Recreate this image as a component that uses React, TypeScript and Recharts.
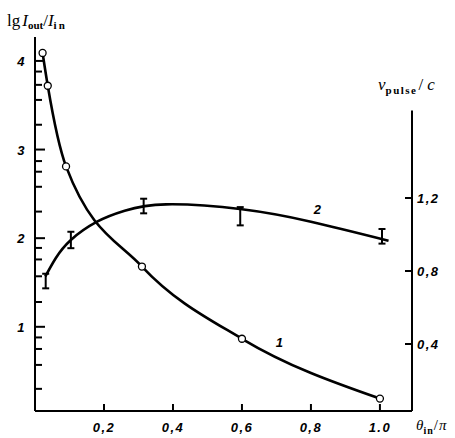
import { ComposedChart, Line, Scatter, ErrorBar, XAxis, YAxis, ReferenceLine } from 'recharts'

// ── Data ─────────────────────────────────────────────────────────────────────

// curve 1: lg(Iout/Iin) vs theta_in/pi, open circles (left axis)
const curve1X = [0.022, 0.037, 0.09, 0.31, 0.6, 1.0]
const curve1Y = [4.09, 3.72, 2.81, 1.68, 0.865, 0.19]

// curve 2: v_pulse/c, smooth fitted line (right axis)
const curve2X = [0.03, 0.06, 0.104, 0.18, 0.26, 0.38, 0.6, 0.8, 1.025]
const curve2Y = [0.77, 0.87, 0.97, 1.07, 1.13, 1.165, 1.138, 1.07, 0.966]

// curve 2 measurements with error bars
const measX = [0.031, 0.104, 0.315, 0.595, 1.006]
const measY = [0.745, 0.97, 1.156, 1.1, 0.99]
const measErr = [0.04, 0.045, 0.04, 0.05, 0.04]

const xTicks = [0.2, 0.4, 0.6, 0.8, 1.0]
const xTickLabels = ['0,2', '0,4', '0,6', '0,8', '1.0']
const leftMajor = [1, 2, 3, 4]
const leftTicks = [0.3, 0.57, 0.75, 0.88, 1, 1.28, 1.57, 1.76, 1.89, 2, 2.3, 2.58, 2.75, 2.87, 3, 3.28, 3.56, 3.73, 3.88, 4]
const rightTicks = [0.4, 0.8, 1.2]
const rightTickLabels = ['0,4', '0,8', '1,2']

const line1 = curve1X.map((x, i) => ({ x, y: curve1Y[i] }))
const line2 = curve2X.map((x, i) => ({ x, y: curve2Y[i] }))
const meas = measX.map((x, i) => ({ x, y: measY[i], e: measErr[i] }))

const W = 455
const H = 438
const X_MAX = 1.093

const ink = '#000'
const tickFont = {
  fontFamily: '"Liberation Sans", Arial, sans-serif',
  fontSize: 13, fontWeight: 700, fontStyle: 'italic', letterSpacing: 1.5, fill: ink,
}
const serif = '"Liberation Serif", "DejaVu Serif", serif'

// ── Ticks drawn inward, like the printed figure ──────────────────────────────

function LeftTick(p: any) {
  const v = p.payload.value
  const major = leftMajor.includes(v)
  return (
    <g>
      <line x1={p.x} x2={p.x + (major ? 10 : 7)} y1={p.y} y2={p.y} stroke={ink} strokeWidth={2} />
      {major && <text x={p.x - 9} y={p.y + 5} textAnchor="end" style={tickFont}>{v}</text>}
    </g>
  )
}

function RightTick(p: any) {
  const i = rightTicks.indexOf(p.payload.value)
  return (
    <g>
      <line x1={p.x - 7} x2={p.x} y1={p.y} y2={p.y} stroke={ink} strokeWidth={2} />
      <text x={p.x + 5} y={p.y + 5} textAnchor="start" style={tickFont}>{rightTickLabels[i]}</text>
    </g>
  )
}

function BottomTick(p: any) {
  const i = xTicks.indexOf(p.payload.value)
  return (
    <g>
      <line x1={p.x} x2={p.x} y1={p.y} y2={p.y - 7} stroke={ink} strokeWidth={2} />
      <text x={p.x} y={p.y + 21} textAnchor="middle" style={tickFont}>{xTickLabels[i]}</text>
    </g>
  )
}

export default function App() {
  return (
    <div style={{ position: 'absolute', left: 0, top: 0, width: W, height: H, background: '#fff' }}>
      <ComposedChart width={W} height={H} margin={{ top: 37, right: 0, bottom: 0, left: 0 }}>
        <XAxis
          dataKey="x" type="number" domain={[0, X_MAX]} allowDataOverflow
          ticks={xTicks} interval={0} height={27} tickSize={0} tickMargin={0}
          axisLine={{ stroke: ink, strokeWidth: 2 }} tickLine={false} tick={<BottomTick />}
        />
        <YAxis
          yAxisId="l" type="number" domain={[0.05, 4.27]} allowDataOverflow
          ticks={leftTicks} interval={0} width={35} tickSize={0} tickMargin={0}
          axisLine={{ stroke: ink, strokeWidth: 2 }} tickLine={false} tick={<LeftTick />}
        />
        <YAxis
          yAxisId="r" orientation="right" type="number" domain={[0.033, 2.082]} allowDataOverflow
          ticks={rightTicks} interval={0} width={43} tickSize={0} tickMargin={0}
          axisLine={false} tickLine={false} tick={<RightTick />}
        />
        <ReferenceLine
          yAxisId="r" stroke={ink} strokeWidth={2} ifOverflow="visible"
          segment={[{ x: X_MAX, y: 0.033 }, { x: X_MAX, y: 1.68 }]}
        />
        <Line
          yAxisId="l" data={line1} dataKey="y" type="monotone" stroke={ink} strokeWidth={2.6}
          dot={{ r: 3.5, fill: '#fff', stroke: ink, strokeWidth: 1.3 }} isAnimationActive={false}
        />
        <Line
          yAxisId="r" data={line2} dataKey="y" type="natural" stroke={ink} strokeWidth={2.6}
          dot={false} isAnimationActive={false}
        />
        <Scatter yAxisId="r" data={meas} dataKey="y" shape={() => <g />} isAnimationActive={false}>
          <ErrorBar dataKey="e" direction="y" width={3.5} stroke={ink} strokeWidth={2} isAnimationActive={false} />
        </Scatter>
      </ComposedChart>

      <svg width={W} height={H} style={{ position: 'absolute', left: 0, top: 0, pointerEvents: 'none' }}>
        <text x={7} y={26} fontFamily={serif} fontSize={17} fill={ink}>
          lg
          <tspan dx={2} fontStyle="italic">I</tspan>
          <tspan dy={3} fontSize={11} fontWeight={700}>out</tspan>
          <tspan dy={-3}>/</tspan>
          <tspan fontStyle="italic">I</tspan>
          <tspan dy={3} fontSize={11} fontWeight={700} letterSpacing={2}>in</tspan>
        </text>
        <text x={378} y={90} fontFamily={serif} fontSize={17} fill={ink}>
          <tspan fontStyle="italic">v</tspan>
          <tspan dy={4} fontSize={11} fontWeight={700} letterSpacing={1.5}>pulse</tspan>
          <tspan dy={-4} dx={1}>/</tspan>
          <tspan dx={4} fontStyle="italic">c</tspan>
        </text>
        <text x={416} y={430} fontFamily={serif} fontSize={15} fill={ink}>
          <tspan fontStyle="italic">θ</tspan>
          <tspan dy={4} fontSize={10} fontWeight={700} letterSpacing={1}>in</tspan>
          <tspan dy={-4}>/</tspan>
          <tspan dx={1} fontStyle="italic">π</tspan>
        </text>
        <text x={280} y={347} textAnchor="middle" style={tickFont}>1</text>
        <text x={318} y={214} textAnchor="middle" style={tickFont}>2</text>
      </svg>
    </div>
  )
}
